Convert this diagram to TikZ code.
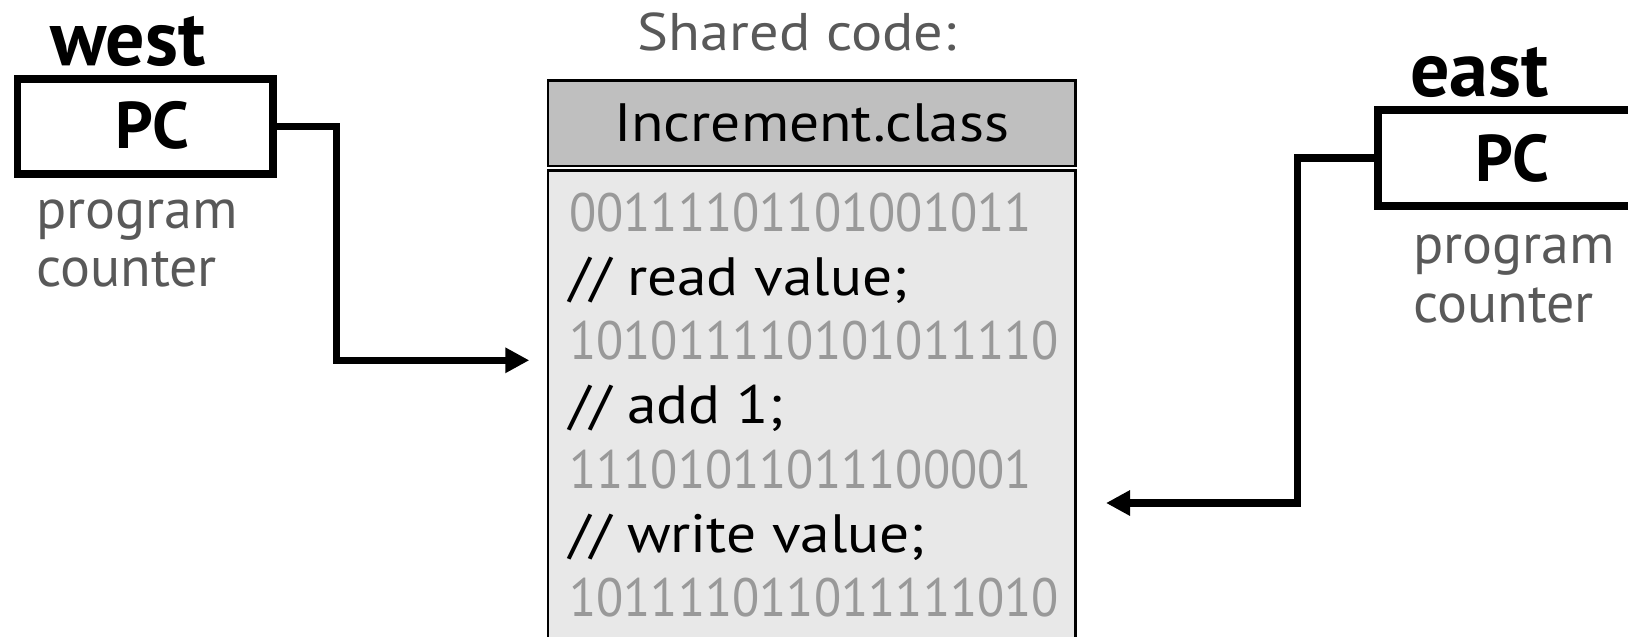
\documentclass[tikz,border=0pt]{standalone}
\usepackage{fontspec}
\setmainfont{PT Sans}
\newfontfamily\widefont[FakeStretch=1.1]{PT Sans}
\newfontfamily\binfont[FakeStretch=0.925]{PT Sans}
\usetikzlibrary{arrows.meta}

\definecolor{labelgray}{HTML}{595959}
\definecolor{bingray}{HTML}{999999}
\definecolor{hdrfill}{HTML}{BFBFBF}
\definecolor{bodyfill}{HTML}{E8E8E8}

\tikzset{
  pcbox/.style={draw, line width=7.5pt, minimum width=255.5pt, inner sep=0pt, fill=white},
  classbox/.style={draw, line width=2.5pt, minimum width=527.5pt, inner sep=0pt},
  conn/.style={line width=7.5pt, -{Triangle[length=24pt,width=24pt]}},
  txt/.style={inner sep=0pt, anchor=base west},
  bigtxt/.style={txt, font=\fontsize{78}{90}\selectfont\bfseries},
  pctxt/.style={inner sep=0pt, anchor=base, font=\fontsize{66}{80}\selectfont\bfseries},
  lbl/.style={txt, text=labelgray, font=\fontsize{56}{60}\selectfont},
  code/.style={txt, font=\fontsize{54}{64}\selectfont\widefont},
  bin/.style={txt, text=bingray, font=\fontsize{54}{64}\selectfont\binfont},
  cmt/.style={code, text=black},
}

\begin{document}
\begin{tikzpicture}[x=1pt,y=-1pt]
\path[use as bounding box, clip] (0,0) rectangle (1628,637);

% west thread
\node[bigtxt] (wname) at (50,65) {west};
\node[pcbox, minimum height=95pt] (wpc) at (145.25,126.5) {};
\node[pctxt] (wpclbl) at (152,148) {PC};
\node[lbl] (wprog) at (36,228) {program};
\node[lbl] (wcnt) at (36,286) {counter};

% east thread
\node[bigtxt] (ename) at (1410,96.7) {east};
\node[pcbox, minimum height=96pt] (epc) at (1505.75,158) {};
\node[pctxt] (epclbl) at (1512.5,181.7) {PC};
\node[lbl] (eprog) at (1413,263) {program};
\node[lbl] (ecnt) at (1413,322) {counter};

% shared class file
\node[inner sep=0pt, anchor=base, text=labelgray, font=\fontsize{53}{60}\selectfont\widefont] (shared) at (797,50) {Shared code:};
\node[classbox, fill=hdrfill, minimum height=85.3pt] (hdr) at (811.75,123.35) {};
\node[inner sep=0pt, anchor=base, font=\fontsize{54}{64}\selectfont\widefont] (hdrlbl) at (811.75,141.7) {Increment.class};
\node[classbox, fill=bodyfill, minimum height=489.5pt] (body) at (811.75,415.25) {};

\node[bin] (l1) at (569,231) {00111101101001011};
\node[cmt] (l2) at (569,295) {// read value;};
\node[bin] (l3) at (569,359) {101011110101011110};
\node[cmt] (l4) at (569,423) {// add 1;};
\node[bin] (l5) at (569,488) {11101011011100001};
\node[cmt] (l6) at (569,552) {// write value;};
\node[bin] (l7) at (569,616) {101111011011111010};

% program counter pointers
\coordinate (wbend) at (336.7,360.3);
\coordinate (wtip) at (529.3,360.3);
\draw[conn] (wpc.east) -| (wbend) -- (wtip);

\coordinate (ebend) at (1297.5,503);
\coordinate (etip) at (1106,503);
\draw[conn] (epc.west) -| (ebend) -- (etip);
\end{tikzpicture}
\end{document}
